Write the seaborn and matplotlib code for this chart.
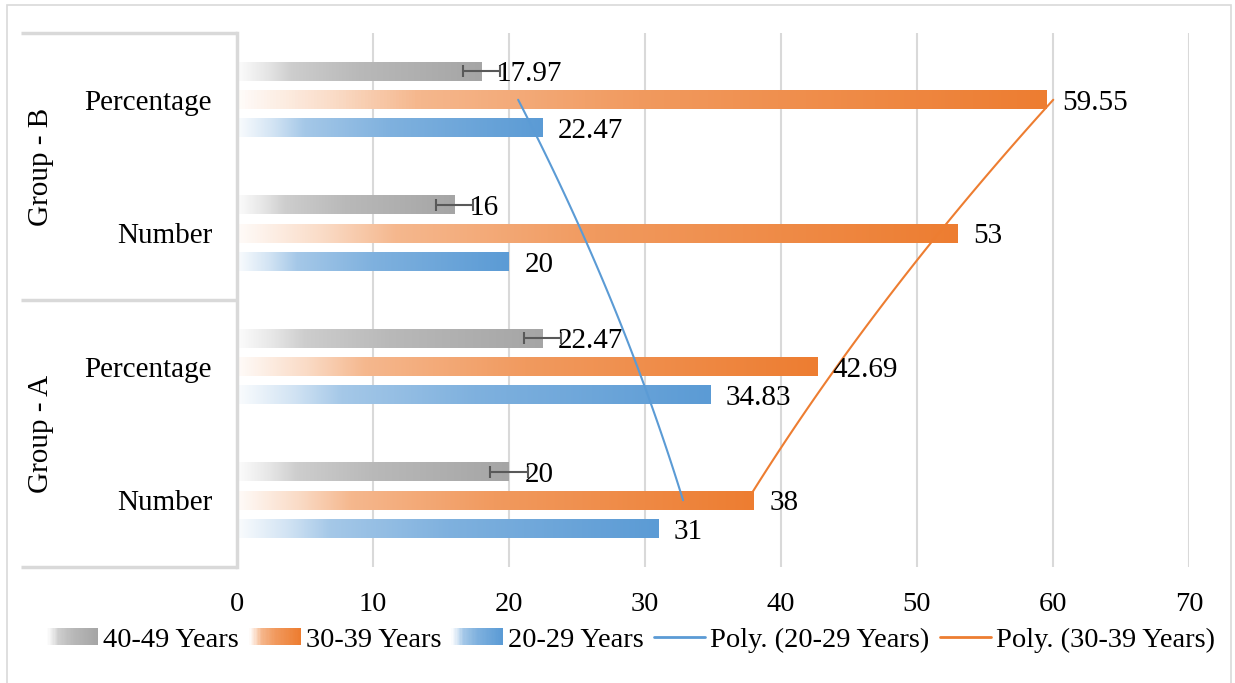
import numpy as np
import pandas as pd
import matplotlib
matplotlib.use("Agg")
import matplotlib.pyplot as plt
import seaborn as sns
from matplotlib.colors import LinearSegmentedColormap, to_rgb
from matplotlib.patches import Rectangle, Patch
from matplotlib.lines import Line2D
from matplotlib.legend_handler import HandlerBase
import matplotlib.transforms as mtransforms

# rows from top to bottom of the chart
groups = ["Group - B", "Group - B", "Group - A", "Group - A"]
measures = ["Percentage", "Number", "Percentage", "Number"]
series = ["40-49 Years", "30-39 Years", "20-29 Years"]
age_40_49 = [17.97, 16, 22.47, 20]
age_30_39 = [59.55, 53, 42.69, 38]
age_20_29 = [22.47, 20, 34.83, 31]
x_ticks = [0, 10, 20, 30, 40, 50, 60, 70]
colors = ["#a5a5a5", "#ed7d31", "#5b9bd5"]
poly_series = ["20-29 Years", "30-39 Years"]

values = [age_40_49, age_30_39, age_20_29]
rows = [f"{g}|{m}" for g, m in zip(groups, measures)]
df = pd.DataFrame({
    "row": np.tile(rows, 3),
    "Series": np.repeat(series, 4),
    "Value": np.concatenate(values),
})


def grad_cmap(hexcol):
    c = np.array(to_rgb(hexcol))
    stops = [(0.0, 0.97), (0.12, 0.72), (0.22, 0.45), (0.5, 0.22), (1.0, 0.0)]
    return LinearSegmentedColormap.from_list(
        "g", [(t, tuple(c + (1 - c) * m)) for t, m in stops])


class GradientHandler(HandlerBase):
    def __init__(self, cmap):
        super().__init__()
        self.cmap = cmap

    def create_artists(self, legend, orig_handle, xdescent, ydescent,
                       width, height, fontsize, trans):
        n = 40
        arts = []
        for i in range(n):
            r = Rectangle((-xdescent + i * width / n, -ydescent), width / n * 1.1,
                          height, facecolor=self.cmap(i / (n - 1)),
                          edgecolor="none", lw=0, transform=trans)
            arts.append(r)
        return arts


sns.set_theme(style="white")
plt.rcParams["font.family"] = ["Liberation Serif", "DejaVu Serif"]

fig = plt.figure(figsize=(12.35, 6.83), dpi=100)
ax = fig.add_axes([237 / 1235, 1 - 567 / 683, (1189 - 237) / 1235, (567 - 33) / 683])

sns.barplot(data=df, y="row", x="Value", hue="Series", hue_order=series,
            palette=colors, orient="h", width=0.636, gap=0.34,
            legend=False, ax=ax, zorder=2)

cmaps = [grad_cmap(c) for c in colors]
grad = np.linspace(0, 1, 256)[None, :]
for k, cont in enumerate(ax.containers):
    for j, p in enumerate(cont.patches):
        x0, y0, w, h = p.get_x(), p.get_y(), p.get_width(), p.get_height()
        p.set_facecolor("none")
        p.set_edgecolor("none")
        ax.imshow(grad, cmap=cmaps[k], extent=(x0, x0 + w, y0 + h, y0),
                  aspect="auto", interpolation="bilinear", zorder=2)
        ax.annotate(f"{values[k][j]:g}", xy=(x0 + w, y0 + h / 2),
                    xytext=(11, 0), textcoords="offset points",
                    ha="left", va="center_baseline", fontsize=21,
                    color="black", zorder=5)

# error bars (standard error) on the 40-49 series
gray_y = [p.get_y() + p.get_height() / 2 for p in ax.containers[0].patches]
se = np.std(age_40_49, ddof=1) / np.sqrt(len(age_40_49))
ax.errorbar(x=age_40_49, y=gray_y, xerr=se, fmt="none", ecolor="#595959",
            elinewidth=1.5, capsize=4.3, capthick=1.5, zorder=4)

# polynomial (order 2) trendlines, Excel order is bottom to top
t = np.arange(1, 5)
tt = np.linspace(1, 4, 100)
for name, col in zip(poly_series, ["#5b9bd5", "#ed7d31"]):
    vals = values[series.index(name)][::-1]
    coef = np.polyfit(t, vals, 2)
    ax.plot(np.polyval(coef, tt), 4 - tt, color=col, lw=1.5, zorder=3)

ax.set_xlim(0, 70)
ax.set_ylim(3.5, -0.5)
ax.set_xticks(x_ticks)
ax.set_xticklabels([str(v) for v in x_ticks])
ax.set_yticks(range(4))
ax.set_yticklabels(measures)
ax.set_xlabel("")
ax.set_ylabel("")
ax.tick_params(axis="x", length=0, pad=18, labelsize=20.5, colors="black")
ax.tick_params(axis="y", length=0, pad=18, labelsize=21, colors="black")
ax.grid(axis="x", color="#d9d9d9", lw=1.5, zorder=0)
ax.set_axisbelow(True)
for s in ["top", "right", "bottom"]:
    ax.spines[s].set_visible(False)
ax.spines["left"].set_color("#d9d9d9")
ax.spines["left"].set_linewidth(2.5)
ax.spines["left"].set_zorder(6)

# multi-level category boxes
blend = mtransforms.blended_transform_factory(ax.transAxes, ax.transData)
xl = (21 - 237) / (1189 - 237)
for yb in [-0.5, 1.5, 3.5]:
    ax.plot([xl, 0], [yb, yb], color="#d9d9d9", lw=2.5, transform=blend,
            clip_on=False, solid_capstyle="butt")
gx = (41 - 237) / (1189 - 237)
for yc, gname in [(0.5, groups[0]), (2.5, groups[2])]:
    ax.text(gx, yc, gname, rotation=90, ha="center", va="center",
            fontsize=21, color="black", transform=blend)

# chart border
fig.patches.append(Rectangle((7 / 1235, -0.01), (1231 - 7) / 1235, 1.01 - 5 / 683,
                             transform=fig.transFigure, fill=False,
                             edgecolor="#d9d9d9", lw=1.2))

handles = [Patch(label=s) for s in series]
handles += [Line2D([], [], color="#5b9bd5", lw=2, label="Poly. (20-29 Years)"),
            Line2D([], [], color="#ed7d31", lw=2, label="Poly. (30-39 Years)")]
hmap = {handles[i]: GradientHandler(cmaps[i]) for i in range(3)}
fig.legend(handles=handles, handler_map=hmap, loc="center",
           bbox_to_anchor=(631 / 1235, 1 - 640 / 683), ncol=5, frameon=False,
           fontsize=20.5, handlelength=1.8, handleheight=0.55,
           handletextpad=0.18, columnspacing=0.36, borderpad=0, labelcolor="black")

fig.savefig("out.png", dpi=100)
